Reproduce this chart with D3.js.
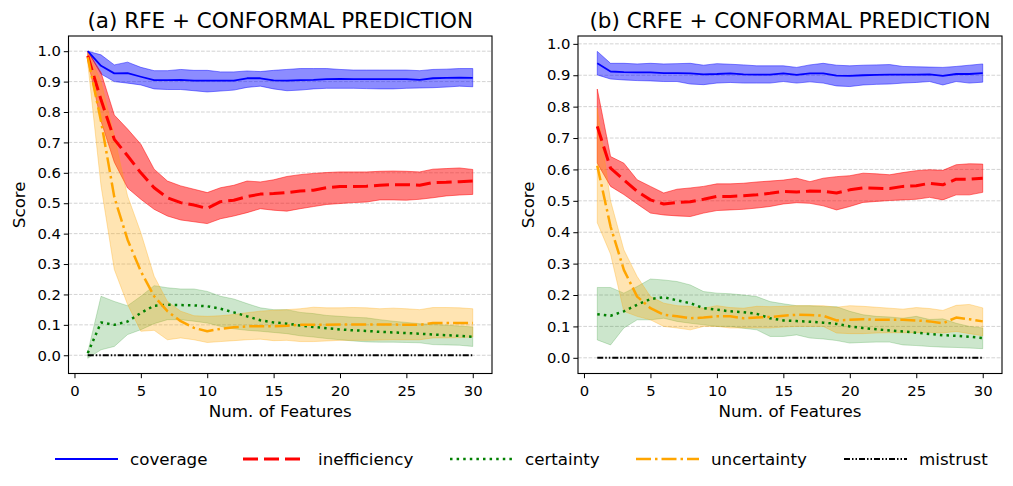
<!DOCTYPE html>
<html>
<head>
<meta charset="utf-8">
<script src="https://cdn.jsdelivr.net/npm/d3@7"></script>
<style>
  body { margin: 0; background: #fff; }
  svg { font-family: "DejaVu Sans", sans-serif; }
</style>
</head>
<body>
<svg id="chart"></svg>
<script>
// number of features on the x axis
var features = [1,2,3,4,5,6,7,8,9,10,11,12,13,14,15,16,17,18,19,20,21,22,23,24,25,26,27,28,29,30];
var xTicks = [0, 5, 10, 15, 20, 25, 30];
var yTicks = [0.0, 0.1, 0.2, 0.3, 0.4, 0.5, 0.6, 0.7, 0.8, 0.9, 1.0];
var seriesNames = ["coverage", "inefficiency", "certainty", "uncertainty", "mistrust"];
var titles = ["(a) RFE + CONFORMAL PREDICTION", "(b) CRFE + CONFORMAL PREDICTION"];

// (a) RFE
var covA   = [1.0,0.952,0.927,0.928,0.916,0.905,0.905,0.906,0.903,0.903,0.903,0.903,0.911,0.911,0.904,0.903,0.905,0.906,0.908,0.909,0.908,0.908,0.908,0.908,0.908,0.906,0.911,0.912,0.913,0.912];
var covAhi = [1.0,0.988,0.955,0.964,0.947,0.936,0.936,0.940,0.937,0.937,0.932,0.932,0.935,0.933,0.937,0.940,0.943,0.943,0.943,0.940,0.938,0.938,0.938,0.938,0.938,0.936,0.940,0.941,0.943,0.943];
var covAlo = [1.0,0.925,0.900,0.895,0.889,0.876,0.874,0.874,0.870,0.866,0.869,0.872,0.881,0.885,0.876,0.870,0.872,0.876,0.878,0.878,0.878,0.877,0.876,0.876,0.878,0.879,0.880,0.882,0.885,0.883];
var inefA   = [0.985,0.84,0.71,0.656,0.60,0.551,0.518,0.502,0.494,0.483,0.505,0.51,0.522,0.53,0.532,0.535,0.54,0.543,0.551,0.555,0.555,0.556,0.559,0.561,0.561,0.559,0.568,0.569,0.571,0.573];
var inefAhi = [1.0,0.93,0.79,0.744,0.694,0.612,0.573,0.557,0.546,0.535,0.551,0.559,0.573,0.57,0.577,0.588,0.594,0.598,0.601,0.603,0.603,0.603,0.605,0.606,0.605,0.603,0.612,0.614,0.616,0.611];
var inefAlo = [0.97,0.77,0.635,0.55,0.513,0.48,0.458,0.445,0.439,0.433,0.449,0.458,0.469,0.482,0.477,0.474,0.482,0.489,0.496,0.499,0.502,0.504,0.511,0.511,0.510,0.513,0.518,0.524,0.527,0.529];
var certA   = [0.007,0.108,0.10,0.111,0.139,0.163,0.166,0.165,0.164,0.161,0.153,0.141,0.128,0.115,0.108,0.104,0.098,0.093,0.089,0.085,0.082,0.080,0.077,0.075,0.073,0.071,0.068,0.066,0.064,0.061];
var certAhi = [0.01,0.194,0.177,0.163,0.194,0.229,0.222,0.218,0.218,0.21,0.194,0.185,0.17,0.156,0.15,0.15,0.141,0.137,0.131,0.128,0.125,0.123,0.117,0.112,0.108,0.104,0.102,0.099,0.096,0.093];
var certAlo = [-0.01,0.018,0.029,0.068,0.084,0.104,0.117,0.117,0.112,0.106,0.095,0.087,0.082,0.079,0.075,0.071,0.064,0.06,0.055,0.051,0.047,0.044,0.043,0.043,0.042,0.041,0.035,0.034,0.033,0.029];
var uncA   = [0.98,0.77,0.52,0.38,0.276,0.194,0.145,0.112,0.09,0.079,0.087,0.092,0.095,0.095,0.095,0.097,0.10,0.10,0.10,0.101,0.101,0.101,0.101,0.101,0.100,0.100,0.106,0.106,0.106,0.106];
var uncAhi = [1.0,0.9,0.72,0.524,0.403,0.26,0.177,0.145,0.13,0.128,0.13,0.134,0.14,0.145,0.148,0.15,0.153,0.158,0.156,0.156,0.157,0.156,0.153,0.155,0.153,0.15,0.157,0.157,0.156,0.153];
var uncAlo = [0.96,0.557,0.282,0.167,0.079,0.082,0.051,0.057,0.051,0.042,0.045,0.048,0.051,0.053,0.048,0.049,0.045,0.045,0.047,0.049,0.049,0.049,0.050,0.051,0.051,0.051,0.057,0.057,0.058,0.06];
var misA   = [0,0,0,0,0,0,0,0,0,0,0,0,0,0,0,0,0,0,0,0,0,0,0,0,0,0,0,0,0,0];

// (b) CRFE
var covB   = [0.938,0.912,0.910,0.909,0.909,0.907,0.907,0.906,0.903,0.904,0.906,0.903,0.902,0.902,0.906,0.901,0.906,0.906,0.899,0.898,0.900,0.901,0.902,0.902,0.902,0.903,0.898,0.904,0.904,0.907];
var covBhi = [0.976,0.938,0.938,0.936,0.938,0.936,0.937,0.938,0.932,0.937,0.935,0.933,0.930,0.930,0.930,0.925,0.933,0.938,0.932,0.930,0.932,0.933,0.934,0.928,0.927,0.926,0.925,0.928,0.932,0.936];
var covBlo = [0.901,0.888,0.885,0.883,0.882,0.880,0.880,0.872,0.870,0.875,0.877,0.875,0.875,0.875,0.880,0.875,0.879,0.875,0.866,0.864,0.869,0.871,0.872,0.875,0.877,0.880,0.869,0.880,0.875,0.878];
var inefB   = [0.737,0.604,0.567,0.53,0.503,0.49,0.495,0.497,0.505,0.514,0.514,0.516,0.519,0.524,0.53,0.528,0.531,0.53,0.525,0.535,0.541,0.54,0.539,0.546,0.548,0.556,0.551,0.569,0.569,0.572];
var inefBhi = [0.856,0.641,0.62,0.567,0.546,0.525,0.537,0.541,0.546,0.554,0.554,0.556,0.56,0.563,0.566,0.572,0.561,0.572,0.577,0.58,0.588,0.586,0.583,0.59,0.596,0.599,0.597,0.615,0.618,0.617];
var inefBlo = [0.62,0.546,0.52,0.49,0.461,0.455,0.452,0.45,0.461,0.469,0.471,0.473,0.477,0.482,0.49,0.494,0.492,0.484,0.471,0.482,0.495,0.498,0.501,0.503,0.505,0.511,0.503,0.519,0.519,0.527];
var certB   = [0.139,0.134,0.148,0.169,0.187,0.193,0.183,0.174,0.158,0.153,0.148,0.145,0.14,0.126,0.119,0.117,0.115,0.112,0.108,0.1,0.095,0.091,0.087,0.084,0.08,0.076,0.072,0.07,0.067,0.063];
var certBhi = [0.224,0.224,0.206,0.227,0.251,0.248,0.243,0.232,0.211,0.206,0.204,0.2,0.195,0.179,0.172,0.166,0.166,0.163,0.163,0.148,0.137,0.132,0.13,0.126,0.132,0.122,0.124,0.11,0.1,0.095];
var certBlo = [0.057,0.041,0.095,0.121,0.121,0.126,0.116,0.11,0.105,0.1,0.1,0.094,0.089,0.068,0.068,0.073,0.063,0.06,0.055,0.047,0.049,0.05,0.05,0.041,0.039,0.036,0.034,0.033,0.031,0.029];
var uncB   = [0.612,0.418,0.28,0.195,0.158,0.137,0.132,0.126,0.128,0.132,0.132,0.126,0.128,0.13,0.134,0.137,0.136,0.134,0.119,0.121,0.123,0.121,0.121,0.121,0.119,0.116,0.11,0.128,0.123,0.116];
var uncBhi = [0.795,0.5,0.344,0.259,0.195,0.174,0.166,0.164,0.158,0.166,0.16,0.158,0.164,0.163,0.164,0.166,0.166,0.166,0.161,0.166,0.164,0.161,0.158,0.155,0.16,0.157,0.151,0.167,0.17,0.159];
var uncBlo = [0.43,0.33,0.148,0.132,0.121,0.1,0.095,0.089,0.1,0.1,0.095,0.095,0.095,0.095,0.098,0.1,0.1,0.1,0.079,0.077,0.077,0.079,0.08,0.08,0.08,0.081,0.079,0.084,0.077,0.07];
var misB   = [0,0,0,0,0,0,0,0,0,0,0,0,0,0,0,0,0,0,0,0,0,0,0,0,0,0,0,0,0,0];

// line styles per series
var styles = [
    { color: "#0000ff", width: 1.8, dash: null,              band: 0.45 },
    { color: "#ff0000", width: 3,   dash: "15,6",            band: 0.5 },
    { color: "#008000", width: 2.5, dash: "2.5,4.1",         band: 0.2 },
    { color: "#ffa500", width: 2.5, dash: "15,4,2.5,4",      band: 0.3 },
    { color: "#000000", width: 2,   dash: "6,2,1.5,2,1.5,2", band: 0 }
];

var svgWidth = 1013, svgHeight = 486;
var svg = d3.select("#chart").attr("width", svgWidth).attr("height", svgHeight);

function drawPanel(left, right, yDomain, title, means, his, los) {
    var top = 36, bottom = 373.5;
    var x = d3.scaleLinear().domain([-0.45, 31.45]).range([left, right]);
    var y = d3.scaleLinear().domain(yDomain).range([bottom, top]);
    var g = svg.append("g");

    // grid
    g.selectAll(".grid").data(yTicks).enter().append("line")
        .attr("x1", left).attr("x2", right)
        .attr("y1", function(d) { return y(d); })
        .attr("y2", function(d) { return y(d); })
        .attr("stroke", "#b0b0b0").attr("stroke-opacity", 0.7)
        .attr("stroke-width", 0.8).attr("stroke-dasharray", "3.7,1.6");

    // bands
    for (var s = 0; s < 4; s++) {
        var rows = features.map(function(f, i) { return { f: f, lo: los[s][i], hi: his[s][i] }; });
        var area = d3.area()
            .x(function(d) { return x(d.f); })
            .y0(function(d) { return y(d.lo); })
            .y1(function(d) { return y(d.hi); });
        g.append("path").datum(rows)
            .attr("d", area)
            .attr("fill", styles[s].color).attr("fill-opacity", styles[s].band)
            .attr("stroke", styles[s].color).attr("stroke-opacity", styles[s].band)
            .attr("stroke-width", 1);
    }

    // mean lines
    for (var s = 0; s < 5; s++) {
        var pts = features.map(function(f, i) { return { f: f, v: means[s][i] }; });
        var line = d3.line()
            .x(function(d) { return x(d.f); })
            .y(function(d) { return y(d.v); });
        g.append("path").datum(pts)
            .attr("d", line)
            .attr("fill", "none")
            .attr("stroke", styles[s].color)
            .attr("stroke-width", styles[s].width)
            .attr("stroke-dasharray", styles[s].dash)
            .attr("stroke-linejoin", "round");
    }

    // axes
    var xAxis = g.append("g")
        .attr("transform", "translate(0," + bottom + ")")
        .call(d3.axisBottom(x).tickValues(xTicks).tickFormat(d3.format("d")).tickSize(4.7).tickSizeOuter(0));
    var yAxis = g.append("g")
        .attr("transform", "translate(" + left + ",0)")
        .call(d3.axisLeft(y).tickValues(yTicks).tickFormat(d3.format(".1f")).tickSize(4.7).tickSizeOuter(0));
    [xAxis, yAxis].forEach(function(a) {
        a.select(".domain").remove();
        a.selectAll("text").attr("font-size", 14.8).attr("fill", "#000")
            .attr("font-family", "DejaVu Sans");
        a.selectAll(".tick line").attr("stroke", "#000").attr("stroke-width", 1);
    });
    xAxis.selectAll("text").attr("y", 8).attr("dy", "0.95em");
    yAxis.selectAll("text").attr("x", -7.5);

    // frame
    g.append("rect")
        .attr("x", left).attr("y", top)
        .attr("width", right - left).attr("height", bottom - top)
        .attr("fill", "none").attr("stroke", "#000").attr("stroke-width", 1.1);

    g.append("text")
        .attr("x", (left + right) / 2).attr("y", 28)
        .attr("text-anchor", "middle").attr("font-size", 21.5)
        .text(title);

    g.append("text")
        .attr("x", (left + right) / 2).attr("y", 417)
        .attr("text-anchor", "middle").attr("font-size", 16.7)
        .text("Num. of Features");

    g.append("text")
        .attr("transform", "translate(" + (left - 44) + "," + ((top + bottom) / 2) + ") rotate(-90)")
        .attr("text-anchor", "middle").attr("font-size", 16.7)
        .text("Score");
}

drawPanel(68.5, 492, [-0.06, 1.05], titles[0],
    [covA, inefA, certA, uncA, misA], [covAhi, inefAhi, certAhi, uncAhi], [covAlo, inefAlo, certAlo, uncAlo]);
drawPanel(578, 1002, [-0.05, 1.025], titles[1],
    [covB, inefB, certB, uncB, misB], [covBhi, inefBhi, certBhi, uncBhi], [covBlo, inefBlo, certBlo, uncBlo]);

// legend
var legendX = [55, 243, 450, 636, 844];
var leg = svg.append("g");
seriesNames.forEach(function(name, i) {
    leg.append("line")
        .attr("x1", legendX[i]).attr("x2", legendX[i] + 63)
        .attr("y1", 459).attr("y2", 459)
        .attr("stroke", styles[i].color)
        .attr("stroke-width", styles[i].width)
        .attr("stroke-dasharray", styles[i].dash);
    leg.append("text")
        .attr("x", legendX[i] + 75).attr("y", 465)
        .attr("font-size", 16.7)
        .text(name);
});
</script>
</body>
</html>
